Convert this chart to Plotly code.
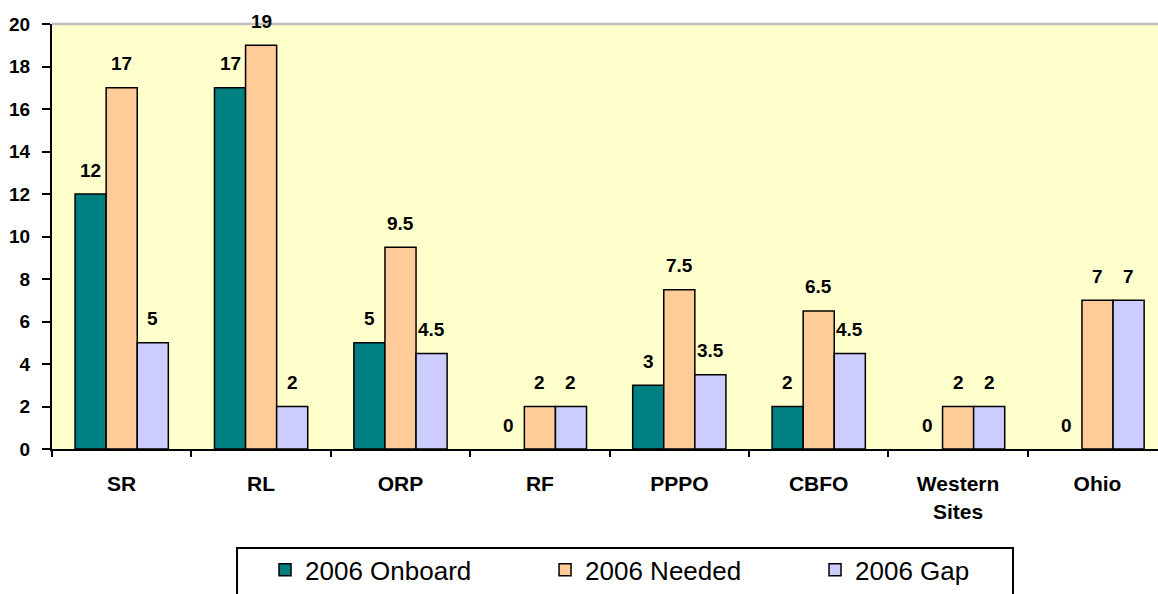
import plotly.graph_objects as go

# data
sites = ["SR", "RL", "ORP", "RF", "PPPO", "CBFO", "Western<br>Sites", "Ohio"]
onboard = [12, 17, 5, 0, 3, 2, 0, 0]
needed = [17, 19, 9.5, 2, 7.5, 6.5, 2, 7]
gap = [5, 2, 4.5, 2, 3.5, 4.5, 2, 7]
y_ticks = list(range(0, 21, 2))

SERIES = [
    ("2006 Onboard", onboard, "#008080", "legend2"),
    ("2006 Needed", needed, "#FFCC99", "legend3"),
    ("2006 Gap", gap, "#CCCCFF", "legend4"),
]

FONT = "Liberation Sans, Arial, sans-serif"
BAR_W = 0.223  # one bar, in category units

fig = go.Figure()
for name, vals, color, lg in SERIES:
    fig.add_trace(go.Bar(
        x=sites, y=vals, name=name, legend=lg,
        # no outline on empty bars
        marker=dict(color=color, line=dict(color="#000000",
                                           width=[1.5 if v else 0 for v in vals])),
    ))

# value labels above each bar
for j, (name, vals, color, lg) in enumerate(SERIES):
    for i, v in enumerate(vals):
        fig.add_annotation(
            x=i + (j - 1) * BAR_W, y=v, xref="x", yref="y",
            text=f"<b>{v:g}</b>", showarrow=False,
            yanchor="middle", yshift=24,
            font=dict(family=FONT, size=19, color="#000000"),
        )

# grey top border + legend frame
fig.add_shape(type="line", xref="paper", yref="paper", x0=0, x1=1, y0=1, y1=1,
              line=dict(color="#C0C0C0", width=2.5))
fig.add_shape(type="rect", xref="paper", yref="paper",
              x0=0.1673, x1=0.8689, y0=-0.2331, y1=-0.37,
              line=dict(color="#000000", width=2))

leg = dict(orientation="h", xanchor="left", yanchor="middle", y=-0.2844,
           bgcolor="rgba(0,0,0,0)", borderwidth=0,
           font=dict(family=FONT, size=26, color="#000000"))

fig.update_layout(
    width=1158, height=594,
    margin=dict(l=52, r=0, t=24, b=141),
    barmode="group", bargap=0.331, bargroupgap=0,
    plot_bgcolor="#FFFFCC", paper_bgcolor="#FFFFFF",
    font=dict(family=FONT, size=19, color="#000000"),
    legend2=dict(leg, x=0.1926),
    legend3=dict(leg, x=0.4458),
    legend4=dict(leg, x=0.6899),
    xaxis=dict(
        type="category", range=[-0.5, 7.434], automargin=False,
        showline=True, linecolor="#000000", linewidth=2,
        ticks="outside", tickson="boundaries", ticklen=6, tickwidth=2, tickcolor="#000000",
        tickfont=dict(family=FONT, size=21, color="#000000"),
        ticklabelstandoff=15, showgrid=False,
    ),
    yaxis=dict(
        range=[0, 20], tickvals=y_ticks, automargin=False,
        showline=True, linecolor="#000000", linewidth=2,
        ticks="outside", ticklen=8, tickwidth=2, tickcolor="#000000",
        tickfont=dict(family=FONT, size=19, color="#000000"),
        ticklabelstandoff=8, showgrid=False, zeroline=False,
    ),
)
fig.update_xaxes(ticktext=[f"<b>{s}</b>" for s in sites], tickvals=sites)
fig.update_yaxes(ticktext=[f"<b>{t}</b>" for t in y_ticks])

# page has a default 8px body margin; drop it so the figure sits at 0,0
fig.write_html("out.html", config={"displayModeBar": False},
               post_script="document.body.style.margin='0';")
